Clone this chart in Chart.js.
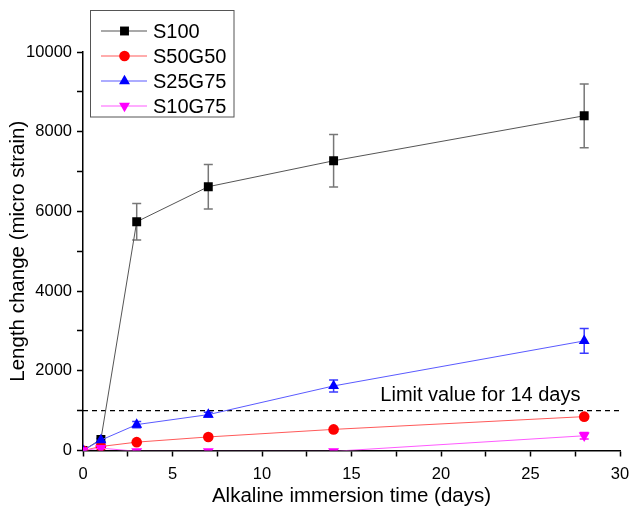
<!DOCTYPE html>
<html>
<head>
<meta charset="utf-8">
<script src="https://cdn.jsdelivr.net/npm/chart.js@4.4.1/dist/chart.umd.min.js"></script>
<style>
  html, body { margin: 0; padding: 0; background: #fff; }
  #wrap { width: 632px; height: 509px; position: relative; }
</style>
</head>
<body>
<div id="wrap"><canvas id="chart"></canvas></div>
<script>
/* Length change vs alkaline immersion time */

const FONT = "'Liberation Sans', Arial, sans-serif";

const DAYS = [0, 1, 3, 7, 14, 28];

const S100 = [0, 280, 5740, 6620, 7270, 8400];
const S100_ERR = [0, 0, 460, 560, 660, 800];

const S50G50 = [0, 100, 210, 340, 530, 850];
const S50G50_ERR = [0, 0, 0, 0, 0, 0];

const S25G75 = [0, 260, 650, 900, 1620, 2750];
const S25G75_ERR = [0, 40, 80, 60, 150, 310];

const S10G75 = [0, 60, -20, -20, -20, 370];
const S10G75_ERR = [0, 0, 0, 0, 0, 80];

const LIMIT_X = [0, 30];
const LIMIT_Y = [1000, 1000];
const LIMIT_LABEL = "Limit value for 14 days";
const LIMIT_LABEL_POS = { x: 22.2, y: 1000 };

const X_TICKS = [0, 5, 10, 15, 20, 25, 30];
const Y_TICKS = [0, 2000, 4000, 6000, 8000, 10000];

const SERIES = [
  { label: "S100",   y: S100,   err: S100_ERR,   mark: "#000000", line: "#555555", bar: "#777777", style: "rect",     rot: 0,   r: 6.3 },
  { label: "S50G50", y: S50G50, err: S50G50_ERR, mark: "#ff0000", line: "#ff5a5a", bar: "#ff0000", style: "circle",   rot: 0,   r: 5.3 },
  { label: "S25G75", y: S25G75, err: S25G75_ERR, mark: "#0000ff", line: "#5a5aff", bar: "#3b3bff", style: "triangle", rot: 0,   r: 6.3 },
  { label: "S10G75", y: S10G75, err: S10G75_ERR, mark: "#ff00ff", line: "#ff5aff", bar: "#ff00ff", style: "triangle", rot: 180, r: 6.3 },
];

const pts = (xs, ys) => xs.map((x, i) => ({ x, y: ys[i] }));

const datasets = SERIES.map((s, i) => ({
  label: s.label,
  data: pts(DAYS, s.y),
  borderColor: s.line,
  borderWidth: 1,
  backgroundColor: s.mark,
  pointBackgroundColor: s.mark,
  pointBorderColor: s.mark,
  pointBorderWidth: 0,
  pointStyle: s.style,
  pointRotation: s.rot,
  pointRadius: s.r,
  tension: 0,
  clip: 0,
  order: SERIES.length - i,
  errors: s.err,
  barColor: s.bar,
}));

datasets.push({
  label: "limit",
  data: pts(LIMIT_X, LIMIT_Y),
  borderColor: "#000",
  borderWidth: 1.2,
  borderDash: [5, 4],
  pointRadius: 0,
  clip: 0,
  order: 10,
  isLimit: true,
});

/* ---------- error bars, limit label, legend ---------- */
const extras = {
  id: "extras",
  beforeDatasetsDraw(chart) {
    const { ctx, scales: { x, y } } = chart;
    ctx.save();
    ctx.beginPath();
    const a = chart.chartArea;
    ctx.rect(a.left, a.top - 20, a.right - a.left, a.bottom - a.top + 20);
    ctx.clip();
    chart.data.datasets.forEach((ds) => {
      if (!ds.errors) return;
      ctx.strokeStyle = ds.barColor;
      ctx.lineWidth = 1.5;
      ds.data.forEach((p, i) => {
        const e = ds.errors[i];
        if (!e) return;
        const px = x.getPixelForValue(p.x);
        const top = y.getPixelForValue(p.y + e);
        const bot = y.getPixelForValue(p.y - e);
        ctx.beginPath();
        ctx.moveTo(px, top); ctx.lineTo(px, bot);
        ctx.moveTo(px - 4.5, top); ctx.lineTo(px + 4.5, top);
        ctx.moveTo(px - 4.5, bot); ctx.lineTo(px + 4.5, bot);
        ctx.stroke();
      });
    });
    ctx.restore();
  },
  afterDraw(chart) {
    const { ctx, scales: { x, y } } = chart;
    ctx.save();
    // limit label
    ctx.fillStyle = "#000";
    ctx.font = `20px ${FONT}`;
    ctx.textAlign = "center";
    ctx.textBaseline = "bottom";
    ctx.fillText(LIMIT_LABEL, x.getPixelForValue(LIMIT_LABEL_POS.x), y.getPixelForValue(LIMIT_LABEL_POS.y) - 5);

    // legend box
    const bx = 90.5, by = 10.5, bw = 143.5, bh = 106.5;
    ctx.fillStyle = "#fff";
    ctx.fillRect(bx, by, bw, bh);
    ctx.strokeStyle = "#555";
    ctx.lineWidth = 1;
    ctx.strokeRect(bx, by, bw, bh);
    ctx.textAlign = "left";
    ctx.textBaseline = "middle";
    ctx.font = `20px ${FONT}`;
    chart.data.datasets.forEach((ds, i) => {
      if (ds.isLimit) return;
      const ry = 31 + i * 25;
      ctx.strokeStyle = ds.borderColor;
      ctx.lineWidth = 1.2;
      ctx.beginPath();
      ctx.moveTo(101, ry); ctx.lineTo(147, ry);
      ctx.stroke();
      ctx.fillStyle = ds.pointBackgroundColor;
      Chart.helpers.drawPoint(ctx, {
        pointStyle: ds.pointStyle, rotation: ds.pointRotation,
        radius: ds.pointRadius, borderWidth: 0,
      }, 124.5, ry);
      ctx.fillStyle = "#000";
      ctx.fillText(ds.label, 153, ry + 1);
    });
    ctx.restore();
  },
};

new Chart(document.getElementById("chart"), {
  type: "line",
  data: { datasets },
  plugins: [extras],
  options: {
    responsive: true, maintainAspectRatio: false, animation: false,
    layout: { padding: { top: 52, right: 12, left: 0, bottom: 0 } },
    plugins: { legend: { display: false }, tooltip: { enabled: false } },
    scales: {
      x: {
        type: "linear", min: 0, max: 30,
        afterFit: (s) => { s.height = 58.5; s.paddingRight = 0; s.paddingLeft = 0; },
        border: { display: true, color: "#000", width: 1.5 },
        grid: { drawOnChartArea: false, drawTicks: true, tickLength: 6, color: "#000", tickWidth: 1.5 },
        ticks: {
          stepSize: 2.5, autoSkip: false, maxRotation: 0, padding: 8,
          color: "#000", font: { family: FONT, size: 16.5 },
          callback: (v) => X_TICKS.includes(v) ? v : "",
        },
        title: {
          display: true, text: "Alkaline immersion time (days)",
          color: "#000", font: { family: FONT, size: 20.5 }, padding: { top: 2, bottom: 0 },
        },
      },
      y: {
        type: "linear", min: 0, max: 10000,
        afterFit: (s) => { s.width = 83; },
        border: { display: true, color: "#000", width: 1.5 },
        grid: { drawOnChartArea: false, drawTicks: true, tickLength: 6, color: "#000", tickWidth: 1.5 },
        ticks: {
          stepSize: 1000, autoSkip: false, padding: 5,
          color: "#000", font: { family: FONT, size: 16.5 },
          callback: (v) => Y_TICKS.includes(v) ? v : "",
        },
        title: {
          display: true, text: "Length change (micro strain)",
          color: "#000", font: { family: FONT, size: 20.5 }, padding: { top: 6, bottom: 0 },
        },
      },
    },
  },
});
</script>
</body>
</html>
